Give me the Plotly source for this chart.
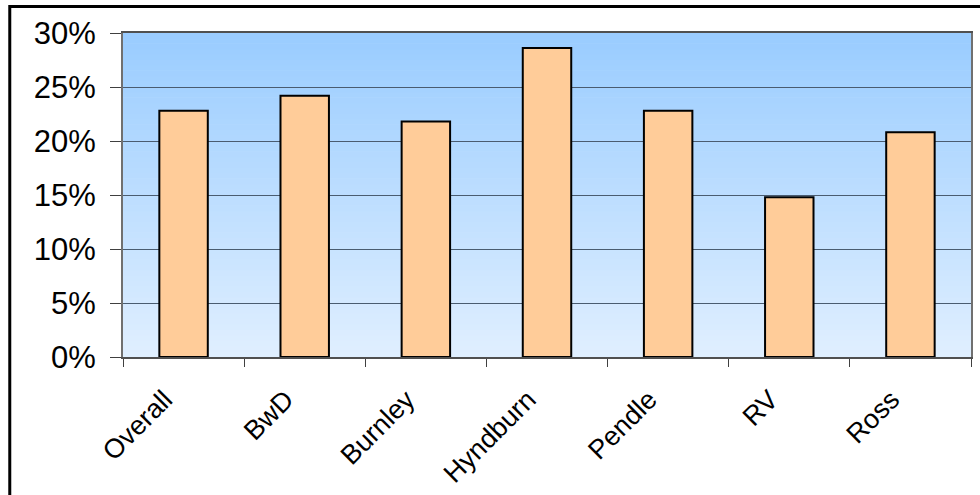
import plotly.graph_objects as go

categories = ["Overall", "BwD", "Burnley", "Hyndburn", "Pendle", "RV", "Ross"]
values = [0.228, 0.242, 0.218, 0.286, 0.228, 0.148, 0.208]
y_ticks = [0, 0.05, 0.10, 0.15, 0.20, 0.25, 0.30]

fig = go.Figure()
fig.add_trace(go.Bar(
    x=categories, y=values,
    marker=dict(color="#FFCC99", line=dict(color="black", width=2)),
    width=0.4,
))

# gradient background bands
n = 60
top = (0x99, 0xCC, 0xFF)
bot = (0xE0, 0xEF, 0xFF)
shapes = []
for i in range(n):
    t = (i + 0.5) / n
    c = tuple(int(round(bot[k] + (top[k] - bot[k]) * t)) for k in range(3))
    shapes.append(dict(type="rect", xref="paper", yref="paper",
                       x0=0, x1=1, y0=i / n, y1=(i + 1) / n + 0.002,
                       fillcolor="rgb(%d,%d,%d)" % c, line=dict(width=0), layer="below"))
# outer border
shapes.append(dict(type="rect", xref="paper", yref="paper",
                   x0=(9.5 - 123) / 850, x1=1.2, y0=-0.6, y1=1 + 26.5 / 324,
                   line=dict(color="black", width=3), fillcolor="rgba(0,0,0,0)", layer="above"))

fig.update_layout(
    width=980, height=495,
    margin=dict(l=123, r=7, t=33, b=138),
    paper_bgcolor="white", plot_bgcolor="#E0EFFF",
    font=dict(family="Liberation Sans, Arial, sans-serif", color="black"),
    showlegend=False,
    shapes=shapes,
    bargap=0.6,
)
fig.update_yaxes(
    range=[0, 0.30], tickvals=y_ticks, tickformat=".0%",
    tickfont=dict(size=31), ticks="outside", ticklen=11, tickcolor="#404040",
    ticklabelstandoff=8,
    showgrid=True, gridcolor="#4A5C70", gridwidth=1,
    showline=True, linecolor="#707070", linewidth=2, mirror=True, zeroline=False,
)
fig.update_xaxes(
    type="category", tickangle=-45, tickfont=dict(size=27),
    ticks="outside", ticklen=8, tickcolor="#404040", tickson="boundaries",
    ticklabelstandoff=14, ticklabelshift=-19,
    showline=True, linecolor="#505050", linewidth=2, mirror=True, showgrid=False,
)
fig.write_html("out.html", config={"displayModeBar": False},
               post_script="document.body.style.margin='0';")
